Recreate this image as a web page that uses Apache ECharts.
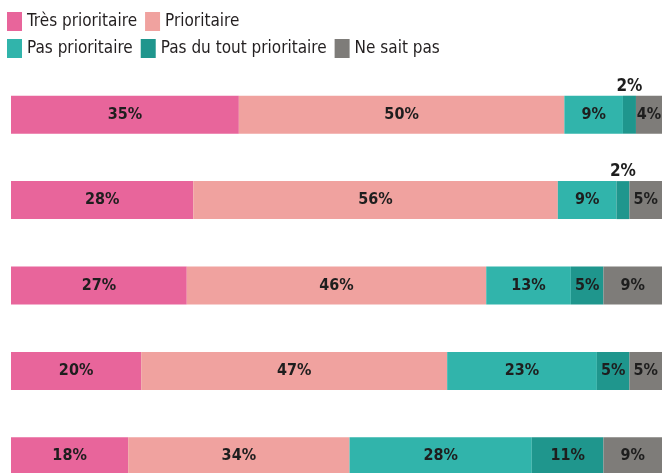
<!DOCTYPE html>
<html>
<head>
<meta charset="utf-8">
<script src="https://cdn.jsdelivr.net/npm/echarts@6/dist/echarts.min.js"></script>
<style>
  html, body { margin: 0; padding: 0; background: #ffffff; }
  #chart { width: 662px; height: 473px; }
</style>
</head>
<body>
<div id="chart"></div>
<script>
// Rows, top to bottom (no row labels are shown in the source)
const rows = ['1', '2', '3', '4', '5'];

const tresPrioritaire   = [35, 28, 27, 20, 18];
const prioritaire       = [50, 56, 46, 47, 34];
const pasPrioritaire    = [9, 9, 13, 23, 28];
const pasDuToutPrio     = [2, 2, 5, 5, 11];
const neSaitPas         = [4, 5, 9, 5, 9];

const FONT = "'Liberation Sans Narrow', 'DejaVu Sans Condensed', sans-serif";

const seriesDefs = [
  { name: 'Très prioritaire',        values: tresPrioritaire, color: '#e8659b' },
  { name: 'Prioritaire',             values: prioritaire,     color: '#f0a29f' },
  { name: 'Pas prioritaire',         values: pasPrioritaire,  color: '#31b4ab' },
  { name: 'Pas du tout prioritaire', values: pasDuToutPrio,   color: '#1f968d' },
  { name: 'Ne sait pas',             values: neSaitPas,       color: '#7e7c79' }
];

const chart = echarts.init(document.getElementById('chart'));

const legendBase = {
  left: 7, padding: 0,
  icon: 'rect', itemWidth: 15, itemHeight: 19, itemGap: 8,
  textStyle: { fontFamily: FONT, fontSize: 17, color: '#231f20' }
};

chart.setOption({
  animation: false,
  backgroundColor: '#ffffff',
  legend: [
    Object.assign({ data: ['Très prioritaire', 'Prioritaire'], top: 12 }, legendBase),
    Object.assign({ data: ['Pas prioritaire', 'Pas du tout prioritaire', 'Ne sait pas'], top: 39 }, legendBase)
  ],
  // grid runs past the bottom edge: the last bar is cut off in the source
  grid: { left: 11, right: 0, top: 72, height: 427, outerBoundsMode: 'none', containLabel: false },
  xAxis: { type: 'value', min: 0, max: 100, show: false },
  yAxis: { type: 'category', data: rows, inverse: true, show: false },
  series: seriesDefs.map(s => ({
    name: s.name,
    type: 'bar',
    stack: 'total',
    barWidth: 38,
    itemStyle: { color: s.color },
    label: {
      show: true,
      position: 'inside',
      fontFamily: FONT,
      fontWeight: 'bold',
      fontSize: 16,
      color: '#1e1e1e',
      formatter: p => p.value + '%'
    },
    data: s.values.map(v => v <= 2
      ? { value: v, label: { position: 'top', distance: 1, fontSize: 17 } }
      : v)
  }))
});
</script>
</body>
</html>
